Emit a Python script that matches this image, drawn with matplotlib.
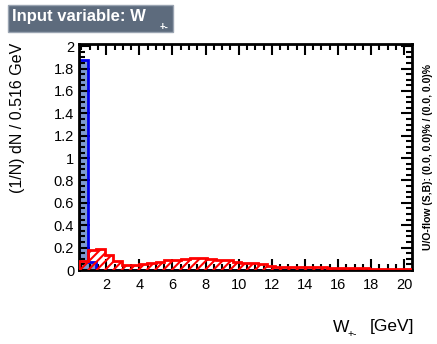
import numpy as np
import matplotlib
matplotlib.use("Agg")
import matplotlib.pyplot as plt
from matplotlib.ticker import MultipleLocator
from matplotlib.patches import Rectangle

plt.rcParams['font.family'] = ['Liberation Sans', 'DejaVu Sans']
plt.rcParams['hatch.linewidth'] = 1.5

x_min = 0.35
bin_width = 0.516
n_bins = 39

signal = [1.88, 0.07, 0.004, 0.003, 0.003, 0.002, 0.002, 0.002, 0.002, 0.002,
          0.002, 0.002, 0.002, 0.002, 0.002, 0.002, 0.002, 0.002, 0.002, 0.002,
          0.002, 0.002, 0.002, 0.002, 0.002, 0.002, 0.002, 0.002, 0.002, 0.002,
          0.002, 0.002, 0.002, 0.002, 0.002, 0.002, 0.002, 0.002, 0.002]
background = [0.08, 0.18, 0.19, 0.13, 0.08, 0.045, 0.045, 0.05, 0.06, 0.07,
              0.085, 0.09, 0.10, 0.11, 0.105, 0.10, 0.09, 0.085, 0.075, 0.065,
              0.06, 0.05, 0.04, 0.03, 0.03, 0.025, 0.025, 0.025, 0.025, 0.02,
              0.02, 0.02, 0.02, 0.015, 0.01, 0.01, 0.01, 0.01, 0.01]

edges = x_min + bin_width * np.arange(n_bins + 1)

W, H = 437, 344
fig = plt.figure(figsize=(W / 100, H / 100), dpi=100)
ax = fig.add_axes([79 / W, 1 - 270 / H, 333 / W, 226 / H])

ax.stairs(signal, edges, fill=True, color='#7d99d1', zorder=1)
ax.stairs(signal, edges, color='#0000ee', linewidth=2, zorder=2)
ax.stairs(background, edges, fill=True, facecolor='none', edgecolor='#ff0000',
          hatch='////', linewidth=0, zorder=3)
ax.stairs(background, edges, color='#ff0000', linewidth=2, zorder=4)

ax.set_xlim(edges[0], edges[-1])
ax.set_ylim(0, 2.02)
ax.xaxis.set_minor_locator(MultipleLocator(0.5))
ax.yaxis.set_minor_locator(MultipleLocator(0.05))
ax.set_xticks([2, 4, 6, 8, 10, 12, 14, 16, 18, 20])
ax.set_yticks(np.round(np.arange(0, 2.01, 0.2), 1))
ax.set_yticklabels(['0', '0.2', '0.4', '0.6', '0.8', '1', '1.2', '1.4', '1.6', '1.8', '2'])
ax.tick_params(which='both', direction='in', top=True, right=True, width=1.5,
               labelsize=10.5)
ax.tick_params(which='major', length=8)
ax.tick_params(which='minor', length=4)
ax.tick_params(axis='x', pad=6)
for s in ax.spines.values():
    s.set_linewidth(2)

fig.text(18 / W, 1 - 118 / H, '(1/N) dN / 0.516 GeV', rotation=90,
         ha='center', va='center', fontsize=11.5)
fig.text(333 / W, 1 - 327 / H, 'W', ha='left', va='center', fontsize=12.5)
fig.text(348 / W, 1 - 334 / H, '+-', ha='left', va='center', fontsize=7.5)
fig.text(370 / W, 1 - 327 / H, '[GeV]', ha='left', va='center', fontsize=12.5)

fig.text(428 / W, 1 - 157 / H, 'U/O-flow (S,B): (0.0, 0.0)% / (0.0, 0.0)%',
         rotation=90, ha='center', va='center', fontsize=7.5, fontweight='bold')

fig.patches.append(Rectangle((8 / W, 1 - 32 / H), 165 / W, 27 / H,
                             transform=fig.transFigure, facecolor='#5d6b7d',
                             edgecolor='#9aa4b2', linewidth=1))
fig.text(12 / W, 1 - 17 / H, 'Input variable: W', ha='left', va='center',
         fontsize=12, fontweight='bold', color='white')
fig.text(160 / W, 1 - 27 / H, '+-', ha='left', va='center',
         fontsize=7, fontweight='bold', color='white')

fig.savefig('out.png', dpi=100)
